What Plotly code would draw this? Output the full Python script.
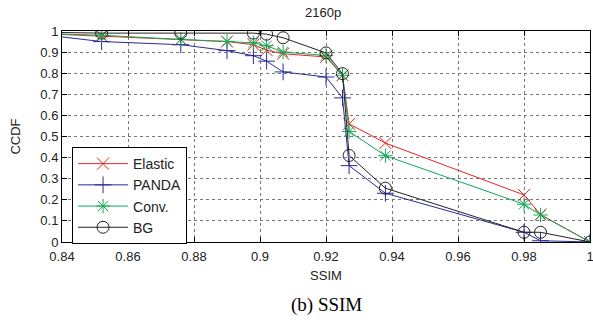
import plotly.graph_objects as go

# SSIM values (x) and CCDF values (y) per series
elastic_x = [0.83, 0.852, 0.876, 0.89, 0.898, 0.902, 0.907, 0.92, 0.925, 0.927, 0.938, 0.98, 0.985, 1.0]
elastic_y = [0.99, 0.975, 0.96, 0.95, 0.935, 0.909, 0.892, 0.877, 0.79, 0.56, 0.469, 0.223, 0.13, 0.0]

panda_x = [0.83, 0.852, 0.876, 0.89, 0.898, 0.902, 0.907, 0.92, 0.925, 0.927, 0.938, 0.98, 0.985, 1.0]
panda_y = [0.99, 0.95, 0.935, 0.907, 0.883, 0.857, 0.806, 0.782, 0.683, 0.362, 0.231, 0.046, 0.006, 0.0]

conv_x = [0.83, 0.852, 0.876, 0.89, 0.898, 0.902, 0.907, 0.92, 0.925, 0.927, 0.938, 0.98, 0.985, 1.0]
conv_y = [0.99, 0.98, 0.96, 0.951, 0.944, 0.93, 0.90, 0.884, 0.79, 0.524, 0.409, 0.179, 0.128, 0.0]

bg_x = [0.83, 0.852, 0.876, 0.898, 0.902, 0.907, 0.92, 0.925, 0.927, 0.938, 0.98, 0.985, 1.0]
bg_y = [0.995, 0.99, 0.99, 0.99, 0.985, 0.968, 0.896, 0.798, 0.41, 0.255, 0.046, 0.046, 0.0]

x_ticks = [0.84, 0.86, 0.88, 0.9, 0.92, 0.94, 0.96, 0.98, 1.0]
x_ticktext = ["0.84", "0.86", "0.88", "0.9", "0.92", "0.94", "0.96", "0.98", "1"]
y_ticks = [0, 0.1, 0.2, 0.3, 0.4, 0.5, 0.6, 0.7, 0.8, 0.9, 1.0]
y_ticktext = ["0", "0.1", "0.2", "0.3", "0.4", "0.5", "0.6", "0.7", "0.8", "0.9", "1"]

series = [
    ("Elastic", elastic_x, elastic_y, "#ee2222", "x-thin-open"),
    ("PANDA", panda_x, panda_y, "#2a2a9a", "cross-thin-open"),
    ("Conv.", conv_x, conv_y, "#11aa55", "asterisk-open"),
    ("BG", bg_x, bg_y, "#222222", "circle-open"),
]

FONT = "Liberation Sans, Arial"

fig = go.Figure()
for name, xs, ys, color, sym in series:
    fig.add_trace(go.Scatter(
        x=xs, y=ys, name=name, mode="lines+markers",
        line=dict(color=color, width=1),
        marker=dict(symbol=sym, size=12, color=color, line=dict(color=color, width=1)),
        cliponaxis=True,
    ))

axis_common = dict(
    showline=True, linecolor="black", linewidth=1, mirror="ticks",
    ticks="inside", ticklen=5, tickcolor="black",
    showgrid=True, gridcolor="#777777", griddash="dot", gridwidth=1,
    zeroline=False, automargin=False, ticklabeloverflow="allow",
    tickfont=dict(family=FONT, size=13, color="#222"),
)

fig.update_layout(
    width=593, height=323,
    margin=dict(l=62, r=3, t=31, b=81, autoexpand=False),
    paper_bgcolor="white", plot_bgcolor="white",
    title=dict(text="2160p", x=0.545, xanchor="center", y=0.962, yanchor="middle",
               font=dict(family=FONT, size=13, color="#222")),
    xaxis=dict(range=[0.84, 1.0], tickvals=x_ticks, ticktext=x_ticktext,
               ticklabelstandoff=2,
               title=dict(text="SSIM", standoff=8,
                          font=dict(family=FONT, size=13, color="#222")),
               **axis_common),
    yaxis=dict(range=[0, 1.0], tickvals=y_ticks, ticktext=y_ticktext,
               title=dict(text="CCDF", standoff=16,
                          font=dict(family=FONT, size=13, color="#222")),
               **axis_common),
    legend=dict(x=0.019, y=0.45, xanchor="left", yanchor="top",
                bgcolor="white", bordercolor="black", borderwidth=1,
                font=dict(family=FONT, size=14, color="#222"),
                tracegroupgap=0, itemwidth=50),
    showlegend=True,
)

fig.add_annotation(text="(b) SSIM", xref="paper", yref="paper", x=0.5, y=-0.3,
                   xanchor="center", yanchor="middle", showarrow=False,
                   font=dict(family="Liberation Serif, Times New Roman", size=19, color="black"))

fig.write_html("out.html", config={"displayModeBar": False},
               post_script="document.body.style.margin='0';")
